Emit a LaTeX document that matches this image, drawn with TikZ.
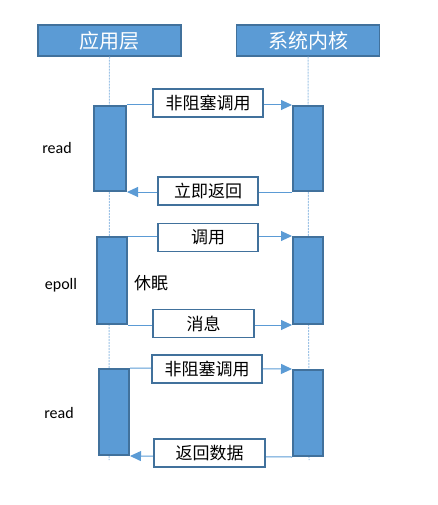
\documentclass[tikz,border=0pt]{standalone}
\usepackage{fontspec}
\setmainfont{Carlito}
\newfontfamily\cjk{Noto Sans CJK SC}
\usetikzlibrary{arrows.meta}
\definecolor{bfill}{HTML}{5B9BD5}
\definecolor{bdraw}{HTML}{41719C}
\definecolor{lline}{HTML}{9DC3E6}
\tikzset{
  header/.style={draw=bdraw, line width=1.5pt, fill=bfill, text=white, minimum width=143pt, minimum height=31pt, inner sep=0pt, font=\cjk\fontsize{20}{20}\selectfont},
  act/.style={draw=bdraw, line width=2pt, fill=bfill, inner sep=0pt},
  lbl/.style={draw=bdraw, line width=1.8pt, fill=white, minimum height=28pt, inner sep=0pt, font=\cjk\fontsize{17}{17}\selectfont},
  arr/.style={draw=bfill, line width=1pt, -{Triangle[length=11pt,width=10pt]}},
  life/.style={draw=lline, line width=1pt, dash pattern=on 2pt off 1pt},
  side/.style={font=\fontsize{16}{16}\selectfont, inner sep=0pt}
}
\begin{document}
\begin{tikzpicture}[x=1pt,y=-1pt]
\useasboundingbox (0,0) rectangle (437,505);
% headers
\node[header] (app) at (109.5,40.5) {应用层};
\node[header] (kern) at (308,40.5) {系统内核};
% lifelines
\coordinate (append) at (109,460);
\coordinate (kernend) at (309,460);
\draw[life] (app.south) -- (append);
\draw[life] (kern.south) -- (kernend);
% activations
\node[act, minimum width=32pt, minimum height=85pt] (a1) at (110,148.5) {};
\node[act, minimum width=30pt, minimum height=85pt] (k1) at (308,148.5) {};
\node[act, minimum width=30pt, minimum height=87pt] (a2) at (112,280.5) {};
\node[act, minimum width=30pt, minimum height=87pt] (k2) at (308,280.5) {};
\node[act, minimum width=30pt, minimum height=86pt] (a3) at (114,412) {};
\node[act, minimum width=30pt, minimum height=86pt] (k3) at (308,413) {};
% arrows
\draw[arr] (a1.north east) -- (k1.north west);
\draw[arr] (k1.south west) -- (a1.south east);
\draw[arr] (a2.north east) -- (k2.north west);
\draw[arr] (a2.south east) -- (k2.south west);
\draw[arr] (a3.north east) -- (k3.north west);
\draw[arr] (k3.south west) -- (a3.south east);
% labels
\node[lbl, minimum width=110pt] (l1) at (208,103) {非阻塞调用};
\node[lbl, minimum width=100pt] (l2) at (208,191) {立即返回};
\node[lbl, minimum width=100pt] (l3) at (208,237.5) {调用};
\node[lbl, minimum width=101pt] (l4) at (203.5,323.5) {消息};
\node[lbl, minimum width=110pt] (l5) at (207,369) {非阻塞调用};
\node[lbl, minimum width=111pt] (l6) at (209.5,453) {返回数据};
% side labels
\node[side] (r1) at (57,148) {read};
\node[side] (e1) at (61,285) {epoll};
\node[side] (r2) at (59,413) {read};
\node[font=\cjk\fontsize{17}{17}\selectfont, inner sep=0pt] (sl) at (151,283) {休眠};
\end{tikzpicture}
\end{document}
